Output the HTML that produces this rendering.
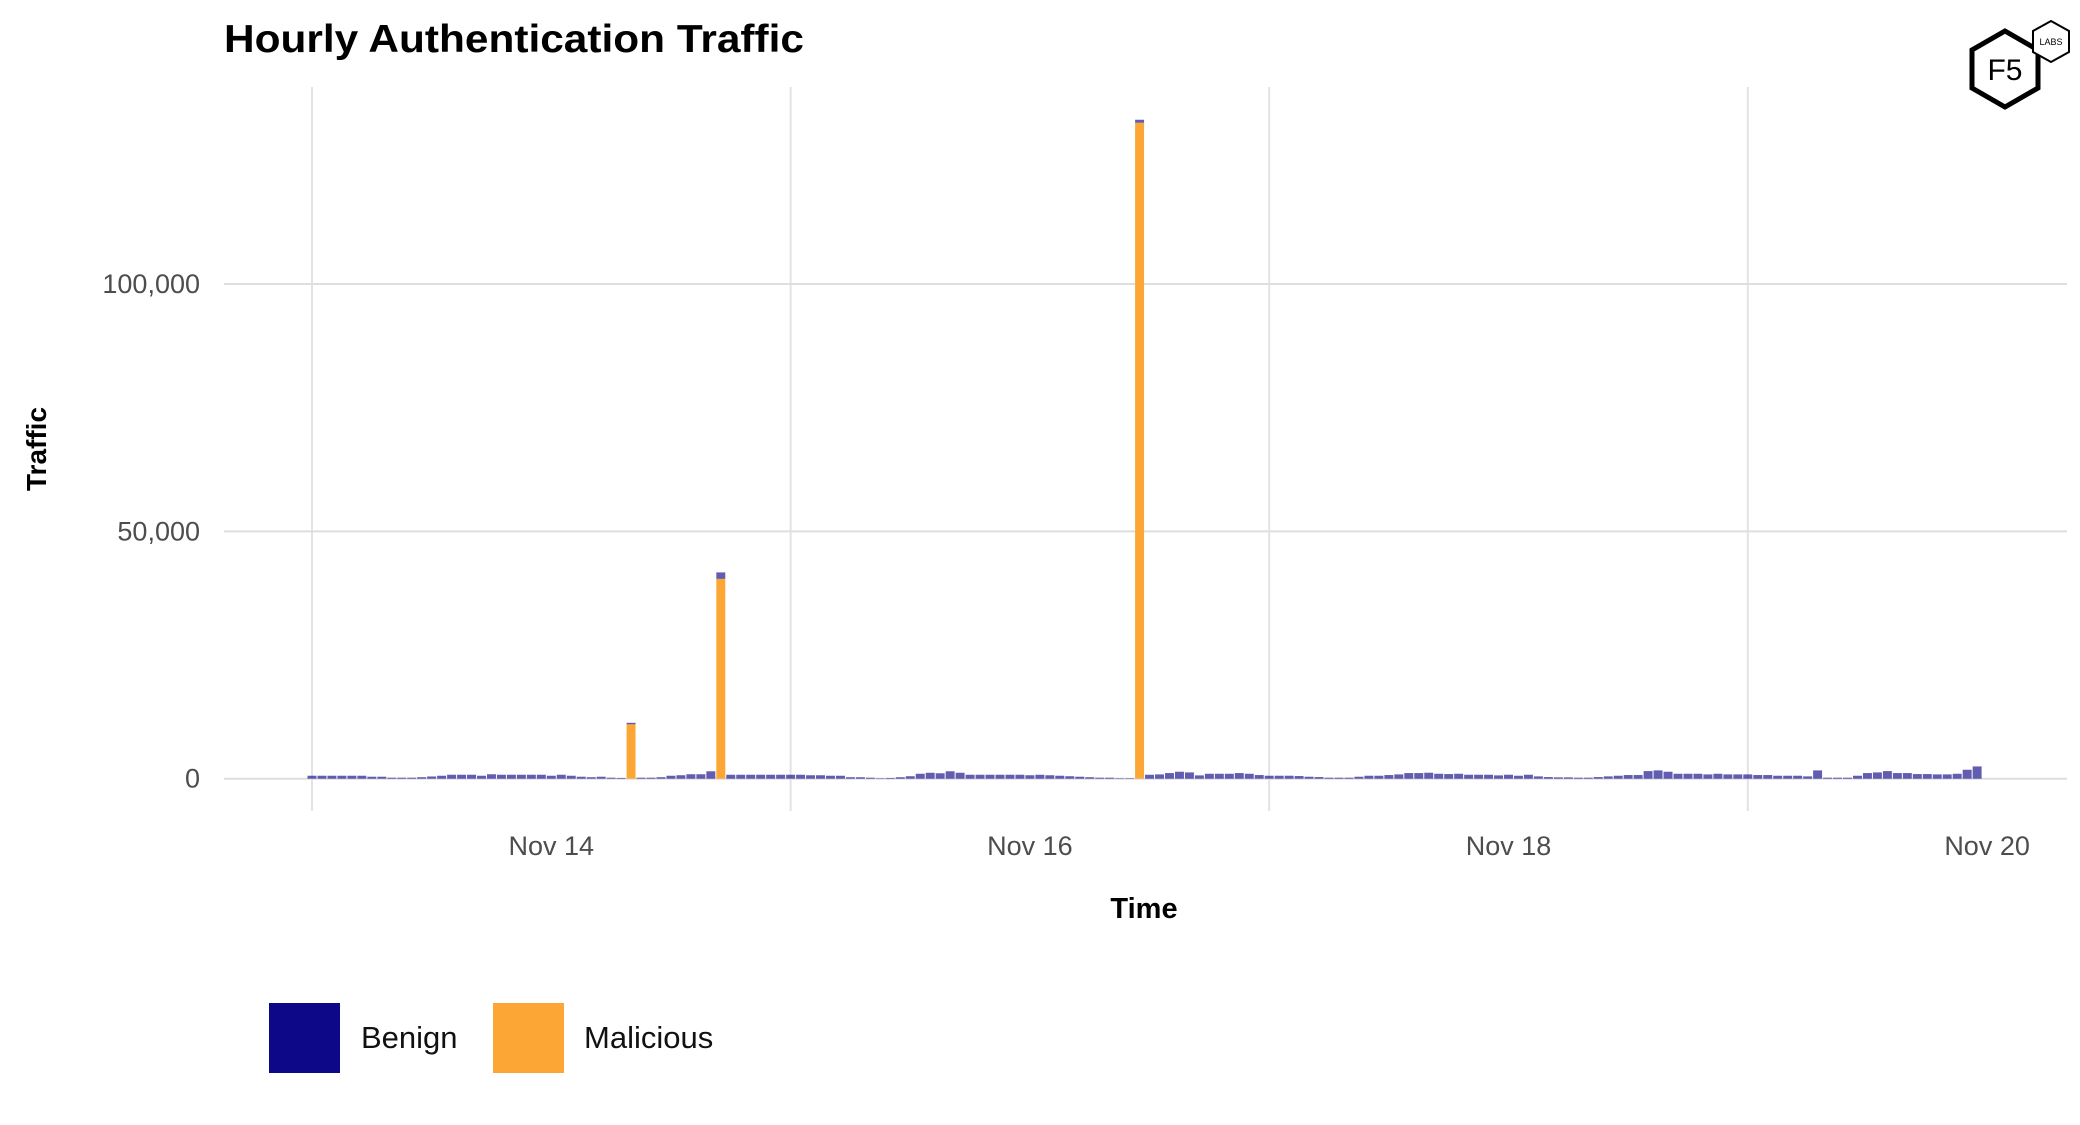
<!DOCTYPE html>
<html><head><meta charset="utf-8"><style>
body{margin:0;background:#fff;font-family:"Liberation Sans",sans-serif;}
svg text{font-family:"Liberation Sans",sans-serif;}
</style></head><body>
<svg width="2080" height="1120" viewBox="0 0 2080 1120">
<g id="grid"></g>
<g id="bars"></g>
<text x="224" y="52" font-size="39" font-weight="bold" fill="#000" textLength="580" lengthAdjust="spacingAndGlyphs">Hourly Authentication Traffic</text>
<text transform="translate(46,449) rotate(-90)" text-anchor="middle" font-size="28" font-weight="bold">Traffic</text>
<text x="1144" y="918" text-anchor="middle" font-size="29" font-weight="bold">Time</text>
<g id="yticks"></g><g id="xticks"></g>
<rect x="269" y="1003" width="71" height="70" fill="#0d0887"/>
<text x="361" y="1048" font-size="31" fill="#111">Benign</text>
<rect x="493" y="1003" width="71" height="70" fill="#fca636"/>
<text x="584" y="1048" font-size="31" fill="#111">Malicious</text>
<g fill="none" stroke="#000">
<polygon points="2005,31 2038,50 2038,88 2005,107 1972,88 1972,50" stroke-width="5" fill="#fff"/>
<text x="2005" y="80" text-anchor="middle" font-size="30" fill="#000" stroke="none">F5</text>
<polygon points="2051,21 2069,31 2069,52 2051,62 2033,52 2033,31" stroke-width="2" fill="#fff"/>
<text x="2051" y="45" text-anchor="middle" font-size="9" fill="#000" stroke="none">LABS</text>
</g>
</svg>
<script>
const yTicks=[0,50000,100000];
const yTickLabels=["0","50,000","100,000"];
const xTickDays=[1,3,5,7];
const xTickLabels=["Nov 14","Nov 16","Nov 18","Nov 20"];
const benign=[600,600,600,600,600,600,400,400,200,200,200,300,450,600,800,800,800,600,900,800,800,800,800,800,600,800,600,400,300,400,200,150,
300,200,200,300,600,700,900,900,1500,1300,
800,800,800,800,800,800,800,800,700,700,600,600,300,300,200,100,150,300,500,1000,1200,1100,1500,1200,800,800,800,800,800,800,700,800,700,600,500,400,300,200,200,100,100,
600,
800,870,1140,1410,1270,670,1000,1000,1000,1140,1000,740,
600,600,600,540,400,330,200,200,200,400,600,600,740,
870,1140,1140,1210,1000,940,1000,800,800,800,670,800,600,800,470,330,
270,270,200,200,330,470,600,740,740,
1540,1680,1410,1000,1000,1000,870,1000,870,870,870,740,740,600,600,600,470,
1680,
200,200,200,600,1140,1270,1540,1140,1140,940,940,870,870,1000,1810,2480];
const malicious=benign.map(()=>0);
malicious[32]=11000;malicious[41]=40400;malicious[83]=132600;
const NS="http://www.w3.org/2000/svg";
const x0=312,hourW=239.3/24,yBase=778.7,yScale=494.7/100000;
const xs=h=>x0+h*hourW, ys=v=>yBase-v*yScale;
function mk(t,a,p){const e=document.createElementNS(NS,t);for(const k in a)e.setAttribute(k,a[k]);p.appendChild(e);return e;}
const grid=document.getElementById('grid');
for(let d=0;d<=6;d+=2){const x=xs(d*24);const l=mk('line',{x1:x,x2:x,y1:87,y2:811,stroke:'#e3e3e3','stroke-width':2},grid);

}
const yt=document.getElementById('yticks');
yTicks.forEach((v,i)=>{const l=mk('line',{x1:224,x2:2067,y1:ys(v),y2:ys(v),stroke:'#dedede','stroke-width':2},grid);


const t=mk('text',{x:200,y:ys(v)+9,'text-anchor':'end','font-size':27,fill:'#4d4d4d'},yt);t.textContent=yTickLabels[i];

});
const xt=document.getElementById('xticks');
xTickDays.forEach((d,i)=>{const t=mk('text',{x:xs(d*24),y:855,'text-anchor':'middle','font-size':27,fill:'#4d4d4d'},xt);t.textContent=xTickLabels[i];

});
const bars=document.getElementById('bars');
benign.forEach((b,h)=>{const x=xs(h)-hourW/2+0.5,w=hourW-1;const m=malicious[h];
if(m>0){const r=mk('rect',{x:x,y:ys(m),width:w,height:yBase-ys(m),fill:'#fca636'},bars);

}
const r2=mk('rect',{x:x,y:ys(m+b),width:w,height:ys(m)-ys(m+b),fill:'#0d0887','fill-opacity':0.65},bars);

});
</script>
</body></html>
